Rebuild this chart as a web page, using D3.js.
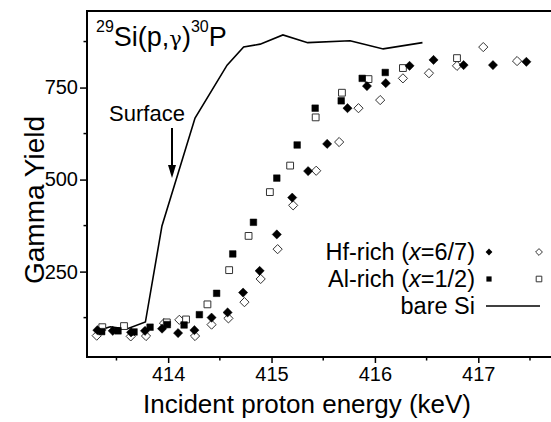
<!DOCTYPE html>
<html>
<head>
<meta charset="utf-8">
<script src="https://cdn.jsdelivr.net/npm/d3@7"></script>
<style>
  html, body { margin: 0; padding: 0; background: #fff; }
  svg { display: block; font-family: "Liberation Sans", Arial, sans-serif; }
</style>
</head>
<body>
<div id="chart"></div>
<script>
// bare Si (solid line)
const bareE = [413.31, 413.44, 413.60, 413.78, 413.94, 414.26, 414.57, 414.73, 414.89, 415.11, 415.35, 415.76, 416.08, 416.46];
const bareY = [89, 100, 94, 113, 374, 667, 811, 860, 868, 893, 872, 877, 855, 872];

// Hf-rich (x=6/7), filled diamonds
const hfFillE = [413.315, 413.464, 413.641, 413.776, 413.941, 414.096, 414.254, 414.420, 414.575, 414.725, 414.885, 415.051, 415.200, 415.354, 415.538, 415.735, 415.923, 416.105, 416.335, 416.567, 416.858, 417.142, 417.465];
const hfFillY = [91, 89, 85, 89, 95, 83, 91, 125, 139, 193, 252, 351, 451, 523, 597, 694, 754, 762, 809, 825, 811, 811, 820];

// Hf-rich (x=6/7), open diamonds
const hfOpenE = [413.309, 413.638, 413.786, 413.960, 414.108, 414.260, 414.420, 414.583, 414.738, 414.895, 415.059, 415.209, 415.432, 415.654, 415.841, 416.051, 416.271, 416.523, 416.794, 417.048, 417.375];
const hfOpenY = [76, 74, 75, 110, 119, 75, 106, 123, 167, 230, 311, 430, 524, 602, 694, 716, 775, 789, 809, 860, 822];

// Al-rich (x=1/2), filled squares
const alFillE = [413.357, 413.515, 413.670, 413.825, 413.992, 414.154, 414.302, 414.469, 414.625, 414.825, 415.051, 415.248, 415.422, 415.674, 415.877, 416.100];
const alFillY = [87, 89, 86, 99, 106, 105, 133, 191, 298, 384, 504, 594, 694, 714, 775, 791];

// Al-rich (x=1/2), open squares
const alOpenE = [413.363, 413.573, 413.987, 414.173, 414.380, 414.590, 414.778, 414.984, 415.180, 415.427, 415.681, 415.938, 416.271, 416.794];
const alOpenY = [99, 102, 112, 120, 161, 254, 347, 466, 538, 669, 736, 773, 803, 830];

const xTicks = [414, 415, 416, 417];
const xMinor = [413.5, 414.5, 415.5, 416.5, 417.5];
const yTicks = [250, 500, 750];
const yMinor = [125, 375, 625, 875];

const legendRows = ["Hf-rich (x=6/7)", "Al-rich (x=1/2)", "bare Si"];

const width = 551, height = 422;
const plot = { left: 87, right: 561, top: 11, bottom: 357 };

const svg = d3.select("#chart").append("svg")
  .attr("width", width)
  .attr("height", height);

const x = d3.scaleLinear().domain([413.215, 417.8]).range([plot.left, plot.right]);
const y = d3.scaleLinear().domain([18, 958]).range([plot.bottom, plot.top]);

const ink = "#000";

// frame
svg.append("rect")
  .attr("x", plot.left).attr("y", plot.top)
  .attr("width", plot.right - plot.left).attr("height", plot.bottom - plot.top)
  .attr("fill", "none").attr("stroke", ink).attr("stroke-width", 2);

// x axis
const xAxis = svg.append("g").attr("transform", `translate(0,${plot.bottom})`);
xAxis.call(d3.axisBottom(x).tickValues(xTicks).tickFormat(d3.format("d")).tickSize(6).tickPadding(4))
  .call(g => g.select(".domain").remove())
  .call(g => g.selectAll("line").attr("stroke-width", 1.5))
  .call(g => g.selectAll("text").attr("font-size", 20).attr("fill", ink).attr("font-family", null));
xAxis.selectAll(".minor").data(xMinor).enter().append("line")
  .attr("class", "minor")
  .attr("x1", d => x(d)).attr("x2", d => x(d))
  .attr("y1", 0).attr("y2", 3.5)
  .attr("stroke", ink).attr("stroke-width", 1.5);

// y axis
const yAxis = svg.append("g").attr("transform", `translate(${plot.left},0)`);
yAxis.call(d3.axisLeft(y).tickValues(yTicks).tickSize(7).tickPadding(2))
  .call(g => g.select(".domain").remove())
  .call(g => g.selectAll("line").attr("stroke-width", 1.5))
  .call(g => g.selectAll("text").attr("font-size", 20).attr("fill", ink).attr("font-family", null));
yAxis.selectAll(".minor").data(yMinor).enter().append("line")
  .attr("class", "minor")
  .attr("y1", d => y(d)).attr("y2", d => y(d))
  .attr("x1", 0).attr("x2", -3.5)
  .attr("stroke", ink).attr("stroke-width", 1.5);

// axis titles
svg.append("text")
  .attr("x", (plot.left + 535) / 2 - 4).attr("y", 413)
  .attr("text-anchor", "middle").attr("font-size", 26)
  .text("Incident proton energy (keV)");

svg.append("text")
  .attr("transform", `translate(44,200) rotate(-90)`)
  .attr("text-anchor", "middle").attr("font-size", 28)
  .text("Gamma Yield");

// bare Si line
const line = d3.line().x(d => x(d[0])).y(d => y(d[1]));
svg.append("path")
  .datum(d3.zip(bareE, bareY))
  .attr("d", line)
  .attr("fill", "none").attr("stroke", ink).attr("stroke-width", 1.6);

// markers
const diamond = s => `M0,${-s}L${s},0L0,${s}L${-s},0Z`;
const square = s => `M${-s},${-s}H${s}V${s}H${-s}Z`;

function drawSeries(E, Y, shape, size, filled) {
  svg.append("g").selectAll("path").data(d3.zip(E, Y)).enter().append("path")
    .attr("transform", d => `translate(${x(d[0])},${y(d[1])})`)
    .attr("d", shape(size))
    .attr("fill", filled ? ink : "#fff")
    .attr("stroke", filled ? ink : "#333")
    .attr("stroke-width", filled ? 0.5 : 1);
}
drawSeries(hfOpenE, hfOpenY, diamond, 4.6, false);
drawSeries(alOpenE, alOpenY, square, 3.4, false);
drawSeries(alFillE, alFillY, square, 3.3, true);
drawSeries(hfFillE, hfFillY, diamond, 4.6, true);

// title
const title = svg.append("text").attr("x", 96).attr("y", 46).attr("font-size", 27);
title.append("tspan").attr("font-size", 16).attr("dy", -14).text("29");
title.append("tspan").attr("dy", 14).text("Si(p,");
title.append("tspan").attr("font-family", "DejaVu Serif, serif").attr("font-size", 21).text("γ");
title.append("tspan").text(")");
title.append("tspan").attr("font-size", 16).attr("dy", -14).text("30");
title.append("tspan").attr("dy", 14).text("P");

// Surface annotation
svg.append("text").attr("x", 147).attr("y", 121)
  .attr("text-anchor", "middle").attr("font-size", 22).text("Surface");
svg.append("line")
  .attr("x1", 172).attr("x2", 172).attr("y1", 128).attr("y2", 168)
  .attr("stroke", ink).attr("stroke-width", 2);
svg.append("path")
  .attr("d", "M168,165L176,165L172,178Z")
  .attr("fill", ink);

// legend
const legY = [252, 279, 306];
const leg = svg.append("g");
legendRows.forEach((label, i) => {
  const t = leg.append("text")
    .attr("x", 475).attr("y", legY[i] + 7.5)
    .attr("text-anchor", "end").attr("font-size", 23.5);
  const m = label.match(/^(.*\()x(=.*)$/);
  if (m) {
    t.append("tspan").text(m[1]);
    t.append("tspan").attr("font-style", "italic").text("x");
    t.append("tspan").text(m[2]);
  } else {
    t.text(label);
  }
});
leg.append("path").attr("transform", `translate(489,${legY[0]})`).attr("d", diamond(3.4)).attr("fill", ink);
leg.append("path").attr("transform", `translate(539,${legY[0]})`).attr("d", diamond(3.4)).attr("fill", "#fff").attr("stroke", "#333").attr("stroke-width", 1);
leg.append("path").attr("transform", `translate(489,${legY[1]})`).attr("d", square(2.6)).attr("fill", ink);
leg.append("path").attr("transform", `translate(539,${legY[1]})`).attr("d", square(2.8)).attr("fill", "#fff").attr("stroke", "#333").attr("stroke-width", 1);
leg.append("line").attr("x1", 486).attr("x2", 540).attr("y1", legY[2]).attr("y2", legY[2])
  .attr("stroke", ink).attr("stroke-width", 1.6);
</script>
</body>
</html>
